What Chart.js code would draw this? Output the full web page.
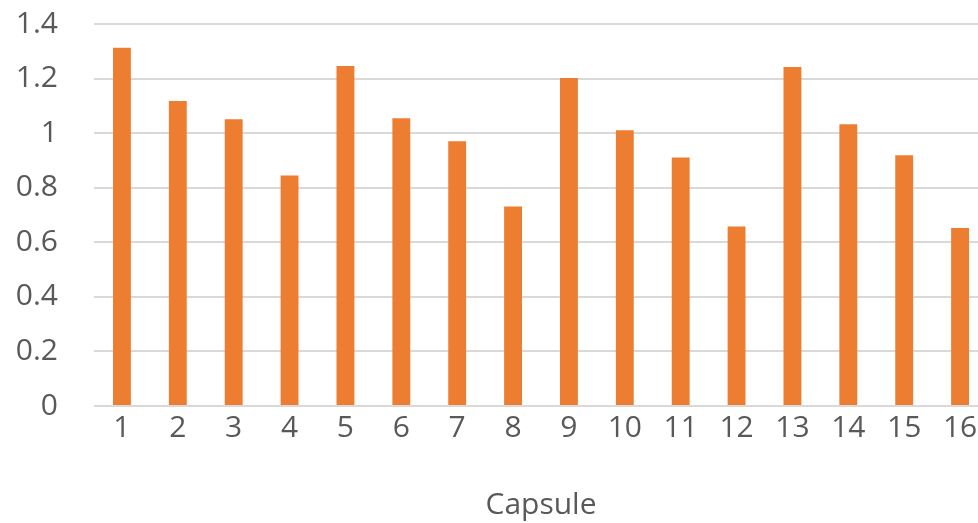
<!DOCTYPE html>
<html>
<head>
<meta charset="utf-8">
<script src="https://cdn.jsdelivr.net/npm/chart.js@4"></script>
<style>
  html, body { margin: 0; padding: 0; background: #fff; overflow: hidden; }
  #wrap { width: 988px; height: 523px; }
</style>
</head>
<body>
<div id="wrap"><canvas id="myChart" width="988" height="523"></canvas></div>
<script>
// values
const capsules = ["1", "2", "3", "4", "5", "6", "7", "8", "9", "10", "11", "12", "13", "14", "15", "16"];
const values = [1.313, 1.118, 1.051, 0.845, 1.246, 1.055, 0.970, 0.731, 1.202, 1.011, 0.911, 0.658, 1.242, 1.033, 0.919, 0.652];
const yTicks = [0, 0.2, 0.4, 0.6, 0.8, 1, 1.2, 1.4];

const fontFamily = "'Open Sans', 'Noto Sans', sans-serif";
const textColor = "#595959";

function renderChart() {
  const ctx = document.getElementById("myChart").getContext("2d");

  const myChart = new Chart(ctx, {
    type: "bar",
    data: {
      labels: capsules,
      datasets: [
        {
          label: "Capsule",
          data: values,
          backgroundColor: "#ED7D31",
          borderWidth: 0,
          barPercentage: 0.32,
          categoryPercentage: 1,
        },
      ],
    },
    options: {
      responsive: false,
      animation: false,
      layout: { padding: { top: 24, right: 0, left: 0, bottom: 0 } },
      plugins: {
        legend: { display: false },
        tooltip: { enabled: false },
      },
      scales: {
        x: {
          grid: { display: false, drawTicks: false },
          border: { display: false },
          ticks: {
            color: textColor,
            font: { family: fontFamily, size: 30 },
            padding: 4,
            maxRotation: 0,
            autoSkip: false,
          },
          title: {
            display: true,
            text: "Capsule",
            color: textColor,
            font: { family: fontFamily, size: 30 },
            padding: { top: 16, bottom: 0 },
          },
          afterFit: (scale) => {
            scale.height = 117;
            scale.paddingTop = 0;
            scale.paddingBottom = 0;
          },
        },
        y: {
          min: 0,
          max: 1.4,
          afterBuildTicks: (scale) => {
            scale.ticks = yTicks.map((v) => ({ value: v }));
          },
          ticks: {
            color: textColor,
            font: { family: fontFamily, size: 30 },
            padding: 36,
            callback: (v) => String(Math.round(v * 10) / 10),
          },
          grid: { color: "#d9d9d9", lineWidth: 2, drawTicks: false },
          border: { display: false },
          afterFit: (scale) => {
            scale.width = 94;
            scale.paddingTop = 0;
            scale.paddingBottom = 0;
          },
        },
      },
    },
  });
}

renderChart();
</script>
</body>
</html>
